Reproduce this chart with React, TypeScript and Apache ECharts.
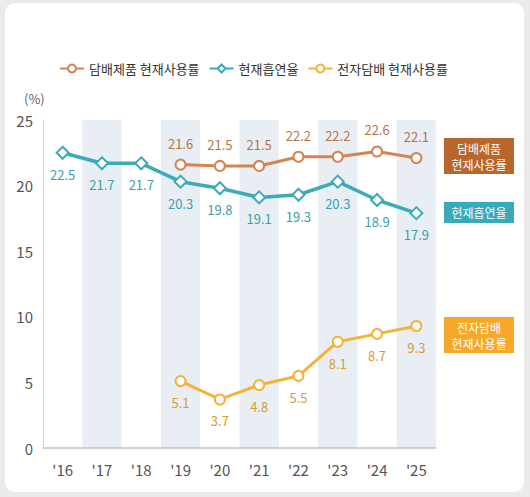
import React, { useEffect, useRef } from "react";
import * as echarts from "echarts";

const years = ["'16", "'17", "'18", "'19", "'20", "'21", "'22", "'23", "'24", "'25"];
const tobaccoUse = [null, null, null, 21.6, 21.5, 21.5, 22.2, 22.2, 22.6, 22.1];
const smokingRate = [22.5, 21.7, 21.7, 20.3, 19.8, 19.1, 19.3, 20.3, 18.9, 17.9];
const ecigUse = [null, null, null, 5.1, 3.7, 4.8, 5.5, 8.1, 8.7, 9.3];
const seriesNames = ["담배제품 현재사용률", "현재흡연율", "전자담배 현재사용률"];

const FONT = "'Noto Sans CJK KR', sans-serif";
const KFONT = "'Noto Sans CJK KR', sans-serif";

export default function App() {
  const ref = useRef<HTMLDivElement>(null);
  useEffect(() => {
    document.body.style.margin = "0";
    const chart = echarts.init(ref.current!, undefined, { renderer: "svg" });
    const brown = "#d4854f";
    const teal = "#3aabb9";
    const yellow = "#f5b23a";
    chart.setOption({
      animation: false,
      backgroundColor: "transparent",
      legend: {
        top: 57,
        left: 54,
        itemWidth: 24,
        itemHeight: 10,
        itemGap: 9,
        textStyle: { fontFamily: KFONT, fontSize: 13, color: "#333" },
        data: seriesNames,
      },
      grid: { left: 43, right: 94, top: 120, bottom: 49 },
      xAxis: {
        type: "category",
        data: years,
        boundaryGap: true,
        axisLine: { lineStyle: { color: "#c4c4c4", width: 1.5 } },
        axisTick: { show: false },
        axisLabel: { fontFamily: FONT, fontSize: 15, color: "#555", margin: 14 },
        splitArea: { show: true, areaStyle: { color: ["rgba(0,0,0,0)", "#e9eef4"] } },
      },
      yAxis: {
        type: "value",
        min: 0,
        max: 25,
        interval: 5,
        axisLine: { show: true, lineStyle: { color: "#d0d0d0" } },
        axisTick: { show: false },
        splitLine: { show: false },
        axisLabel: { fontFamily: FONT, fontSize: 15, color: "#555", margin: 10 },
      },
      graphic: [
        { type: "text", left: 24, top: 92, style: { text: "(%)", fontFamily: FONT, fontSize: 13, fill: "#666" } },
        {
          type: "group", left: 444, top: 138,
          children: [
            { type: "rect", shape: { x: 0, y: 0, width: 70, height: 36 }, style: { fill: "#b9662d" } },
            { type: "text", x: 35, y: 18, style: { text: "담배제품\n현재사용률", fontFamily: KFONT, fontSize: 12, lineHeight: 16, fill: "#fff", align: "center", verticalAlign: "middle" } },
          ],
        },
        {
          type: "group", left: 444, top: 202,
          children: [
            { type: "rect", shape: { x: 0, y: 0, width: 70, height: 21 }, style: { fill: "#3aaabb" } },
            { type: "text", x: 35, y: 10.5, style: { text: "현재흡연율", fontFamily: KFONT, fontSize: 12, fill: "#fff", align: "center", verticalAlign: "middle" } },
          ],
        },
        {
          type: "group", left: 444, top: 317,
          children: [
            { type: "rect", shape: { x: 0, y: 0, width: 70, height: 36 }, style: { fill: "#f5a82a" } },
            { type: "text", x: 35, y: 18, style: { text: "전자담배\n현재사용률", fontFamily: KFONT, fontSize: 12, lineHeight: 16, fill: "#fff", align: "center", verticalAlign: "middle" } },
          ],
        },
      ],
      series: [
        {
          name: seriesNames[0],
          type: "line",
          data: tobaccoUse,
          color: brown,
          symbol: "emptyCircle",
          symbolSize: 10,
          lineStyle: { width: 3, color: brown },
          itemStyle: { color: brown, borderWidth: 2 },
          label: { show: true, position: "top", distance: 9, fontFamily: FONT, fontSize: 13, color: "#b8733f" },
        },
        {
          name: seriesNames[1],
          type: "line",
          data: smokingRate,
          color: teal,
          symbol: "emptyDiamond",
          symbolSize: 12,
          lineStyle: { width: 3.5, color: teal },
          itemStyle: { color: teal, borderWidth: 2 },
          label: { show: true, position: "bottom", distance: 8, fontFamily: FONT, fontSize: 13, color: "#3aa0ae" },
        },
        {
          name: seriesNames[2],
          type: "line",
          data: ecigUse,
          color: yellow,
          symbol: "emptyCircle",
          symbolSize: 10,
          lineStyle: { width: 3, color: yellow },
          itemStyle: { color: yellow, borderWidth: 2 },
          label: { show: true, position: "bottom", distance: 9, fontFamily: FONT, fontSize: 13, color: "#d99a35" },
        },
      ],
    });
    return () => chart.dispose();
  }, []);
  return (
    <div style={{ position: "fixed", left: 0, top: 0, width: 530, height: 497, background: "#ebebeb" }}>
      <div style={{ position: "absolute", left: 5, top: 3, width: 519, height: 489, background: "#fff", borderRadius: 10 }} />
      <div ref={ref} style={{ position: "absolute", left: 0, top: 0, width: 530, height: 497 }} />
    </div>
  );
}
